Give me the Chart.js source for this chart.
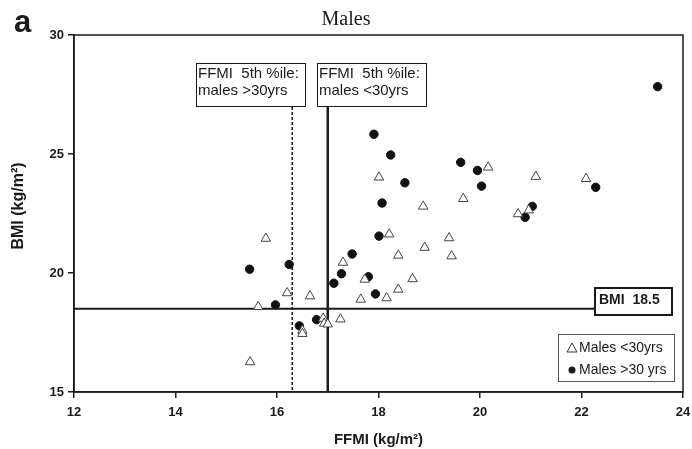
<!DOCTYPE html>
<html>
<head>
<meta charset="utf-8">
<script src="https://cdn.jsdelivr.net/npm/chart.js@4.4.1/dist/chart.umd.min.js"></script>
<style>
  html, body { margin: 0; padding: 0; background: #fff; }
  #wrap { width: 692px; height: 449px; }
</style>
</head>
<body>
<div id="wrap"><canvas id="myChart" width="692" height="449"></canvas></div>
<script>
// DATA
const youngFfmi = [15.78, 15.47, 15.63, 16.20, 16.65, 16.50, 16.50, 16.91, 16.93, 17.00,
	17.25, 17.30, 17.65, 17.73, 18.01, 20.16, 21.10, 22.09, 18.88, 19.67,
	20.75, 20.96, 18.21, 18.39, 18.91, 19.39, 19.44, 18.67, 18.39, 18.16];
const youngBmi = [21.45, 16.26, 18.58, 19.16, 19.03, 17.58, 17.45, 18.09, 17.88, 17.85,
	18.06, 20.44, 18.89, 19.73, 24.02, 24.44, 24.05, 23.96, 22.80, 23.12,
	22.48, 22.64, 21.63, 20.74, 21.07, 21.47, 20.71, 19.75, 19.31, 18.95];
const olderFfmi = [15.46, 16.24, 15.97, 16.44, 16.78, 17.12, 17.27, 17.48, 17.80, 17.94,
	17.91, 18.01, 23.50, 18.24, 18.52, 18.07, 19.62, 19.95, 20.03, 21.03,
	20.89, 22.28];
const olderBmi = [20.16, 20.36, 18.66, 17.78, 18.04, 19.57, 19.97, 20.80, 19.84, 19.12,
	25.83, 21.55, 27.83, 24.96, 23.79, 22.94, 24.65, 24.31, 23.65, 22.80,
	22.34, 23.60];
const seriesNames = ["Males <30yrs", "Males >30 yrs"];
const xTicks = [12, 14, 16, 18, 20, 22, 24];
const yTicks = [15, 20, 25, 30];
const ffmiCutYoung = 17.0;
const ffmiCutOld = 16.3;
const bmiCut = 18.5;

const toPoints = (xs, ys) => xs.map((x, i) => ({ x: x, y: ys[i] }));

const ink = "#1a1a1a";
const sans = "'Liberation Sans', Arial, sans-serif";

// REFERENCE LINES, BOXES, LEGEND
const overlay = {
	id: "overlay",
	beforeDatasetsDraw(chart) {
		const ctx = chart.ctx;
		const xs = chart.scales.x, ys = chart.scales.y;
		const a = chart.chartArea;
		ctx.save();
		ctx.strokeStyle = ink;

		// BMI 18.5 line
		const yb = ys.getPixelForValue(bmiCut);
		ctx.lineWidth = 2;
		ctx.beginPath();
		ctx.moveTo(a.left, yb);
		ctx.lineTo(595, yb);
		ctx.stroke();

		// FFMI cut-offs
		const boxBottom = 107;
		const xo = xs.getPixelForValue(ffmiCutOld);
		ctx.lineWidth = 1.5;
		ctx.setLineDash([3, 2]);
		ctx.beginPath();
		ctx.moveTo(xo, boxBottom);
		ctx.lineTo(xo, a.bottom);
		ctx.stroke();
		ctx.setLineDash([]);
		const xy = xs.getPixelForValue(ffmiCutYoung);
		ctx.lineWidth = 2.5;
		ctx.beginPath();
		ctx.moveTo(xy, boxBottom);
		ctx.lineTo(xy, a.bottom);
		ctx.stroke();

		// label boxes
		ctx.lineWidth = 1;
		ctx.font = "15px " + sans;
		ctx.textBaseline = "middle";
		ctx.textAlign = "left";
		const boxes = [
			{ x: 196, lines: ["FFMI  5th %ile:", "males >30yrs"] },
			{ x: 317, lines: ["FFMI  5th %ile:", "males <30yrs"] },
		];
		boxes.forEach(b => {
			ctx.fillStyle = "#fff";
			ctx.fillRect(b.x, 63, 110, 44);
			ctx.strokeRect(b.x + 0.5, 63.5, 109, 43);
			ctx.fillStyle = ink;
			ctx.fillText(b.lines[0], b.x + 2, 74);
			ctx.fillText(b.lines[1], b.x + 2, 91);
		});

		// BMI 18.5 box
		ctx.fillStyle = "#fff";
		ctx.fillRect(595, 288, 77, 27);
		ctx.lineWidth = 2;
		ctx.strokeRect(595, 288, 77, 27);
		ctx.fillStyle = ink;
		ctx.font = "bold 14px " + sans;
		ctx.fillText("BMI  18.5", 599, 300);
		ctx.restore();
	},
	afterDraw(chart) {
		const ctx = chart.ctx;
		const a = chart.chartArea;
		ctx.save();
		// frame
		ctx.strokeStyle = ink;
		ctx.lineWidth = 1.5;
		ctx.strokeRect(a.left, a.top, a.right - a.left, a.bottom - a.top);

		// legend
		ctx.strokeStyle = "#555";
		ctx.lineWidth = 1;
		ctx.fillStyle = "#fff";
		ctx.fillRect(558, 334, 117, 48);
		ctx.strokeRect(558.5, 334.5, 116, 47);
		ctx.font = "14px " + sans;
		ctx.textBaseline = "middle";
		ctx.textAlign = "left";
		ctx.strokeStyle = "#333";
		ctx.beginPath();
		ctx.moveTo(572, 343);
		ctx.lineTo(577, 352);
		ctx.lineTo(567, 352);
		ctx.closePath();
		ctx.stroke();
		ctx.fillStyle = ink;
		ctx.fillText(seriesNames[0], 579, 348);
		ctx.beginPath();
		ctx.arc(572, 370, 3.5, 0, Math.PI * 2);
		ctx.fill();
		ctx.fillText(seriesNames[1], 579, 370);

		// y axis title
		ctx.save();
		ctx.translate(19, 206);
		ctx.rotate(-Math.PI / 2);
		ctx.textAlign = "center";
		ctx.font = "bold 16px " + sans;
		ctx.fillText("BMI (kg/m²)", 0, 0);
		ctx.restore();

		// panel letter and title
		ctx.textBaseline = "alphabetic";
		ctx.font = "bold 31px " + sans;
		ctx.fillText("a", 14, 32);
		ctx.font = "20px 'Liberation Serif', 'Times New Roman', serif";
		ctx.textAlign = "center";
		ctx.fillText("Males", 346, 25);
		ctx.restore();
	},
};

// CONFIG
const tickFont = { family: sans, size: 13, weight: "bold" };
const titleFont = { family: sans, size: 15, weight: "bold" };

const config = {
	type: "scatter",
	data: {
		datasets: [
			{
				label: seriesNames[0],
				data: toPoints(youngFfmi, youngBmi),
				pointStyle: "triangle",
				radius: 5.5,
				backgroundColor: "#fff",
				borderColor: "#444",
				borderWidth: 1,
			},
			{
				label: seriesNames[1],
				data: toPoints(olderFfmi, olderBmi),
				pointStyle: "circle",
				radius: 4.2,
				backgroundColor: "#111",
				borderColor: "#111",
				borderWidth: 1,
			},
		],
	},
	options: {
		responsive: false,
		animation: false,
		layout: { padding: { left: 0, right: 9, top: 35, bottom: 0 } },
		plugins: {
			legend: { display: false },
			tooltip: { enabled: false },
		},
		scales: {
			x: {
				type: "linear",
				min: xTicks[0],
				max: xTicks[xTicks.length - 1],
				afterBuildTicks: s => { s.ticks = xTicks.map(v => ({ value: v })); },
				afterFit: s => { s.height = 57; s.paddingLeft = 0; s.paddingRight = 0; },
				grid: { display: true, drawOnChartArea: false, drawTicks: true, tickLength: 6, color: ink, lineWidth: 1.5 },
				border: { color: ink, width: 1.5 },
				ticks: { font: tickFont, color: ink, padding: 7 },
				title: { display: true, text: "FFMI (kg/m²)", font: titleFont, color: ink, padding: { top: 6, bottom: 0 } },
			},
			y: {
				type: "linear",
				min: yTicks[0],
				max: yTicks[yTicks.length - 1],
				afterBuildTicks: s => { s.ticks = yTicks.map(v => ({ value: v })); },
				afterFit: s => { s.width = 74; s.paddingTop = 0; s.paddingBottom = 0; },
				grid: { display: true, drawOnChartArea: false, drawTicks: true, tickLength: 6, color: ink, lineWidth: 1.5 },
				border: { color: ink, width: 1.5 },
				ticks: { font: tickFont, color: ink, padding: 4 },
			},
		},
	},
	plugins: [overlay],
};

// RENDER
var myChart = new Chart(document.getElementById("myChart"), config);
</script>
</body>
</html>
